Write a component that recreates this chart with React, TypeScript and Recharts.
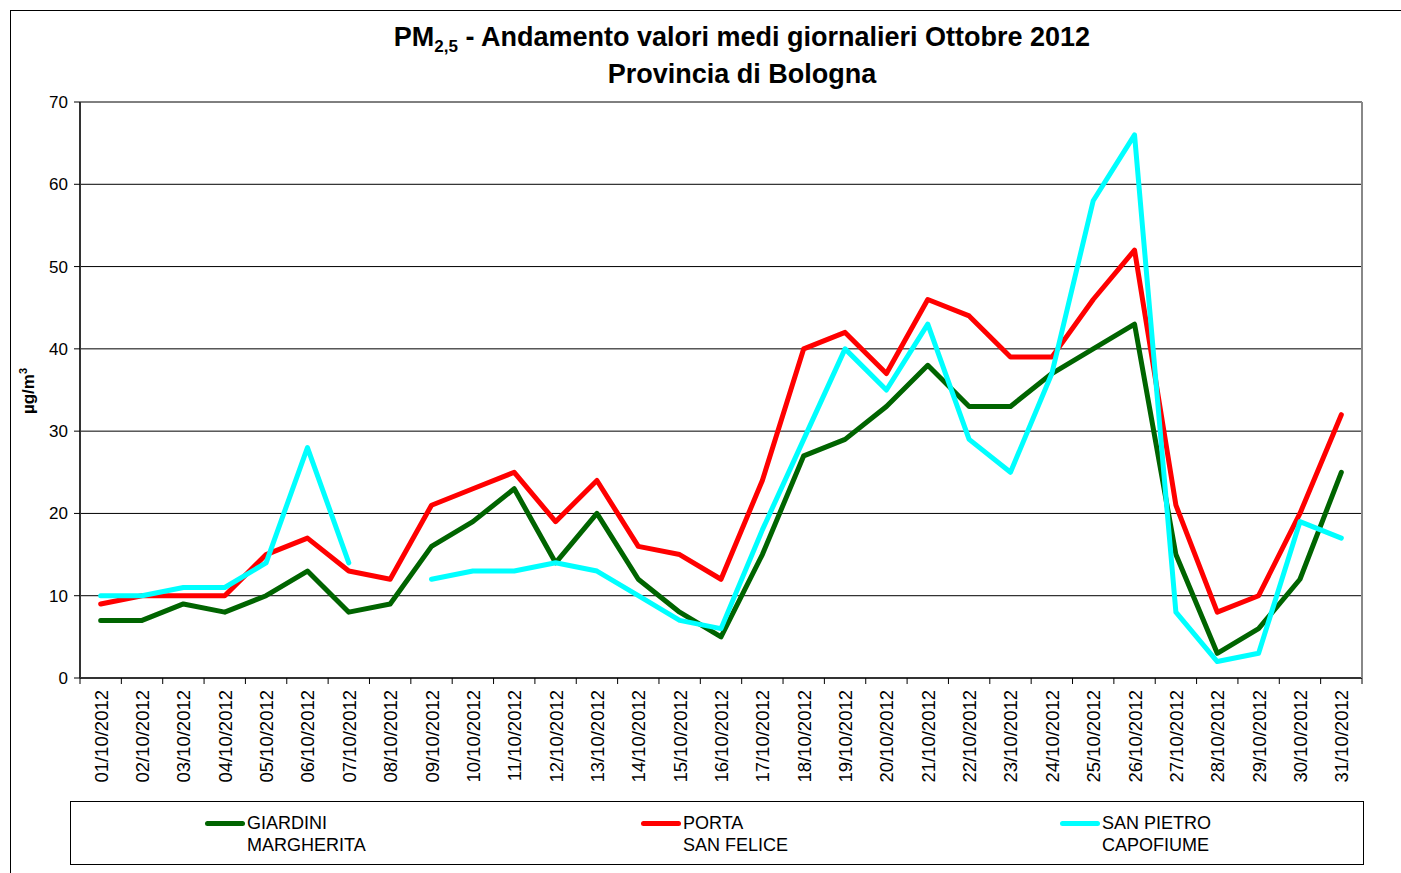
import React from "react";
import { LineChart, Line, XAxis, YAxis, CartesianGrid } from "recharts";

const days = [
  "01/10/2012","02/10/2012","03/10/2012","04/10/2012","05/10/2012","06/10/2012","07/10/2012","08/10/2012",
  "09/10/2012","10/10/2012","11/10/2012","12/10/2012","13/10/2012","14/10/2012","15/10/2012","16/10/2012",
  "17/10/2012","18/10/2012","19/10/2012","20/10/2012","21/10/2012","22/10/2012","23/10/2012","24/10/2012",
  "25/10/2012","26/10/2012","27/10/2012","28/10/2012","29/10/2012","30/10/2012","31/10/2012",
];

const giardini = [7,7,9,8,10,13,8,9,16,19,23,14,20,12,8,5,15,27,29,33,38,33,33,37,40,43,15,3,6,12,25];
const portaSanFelice = [9,10,10,10,15,17,13,12,21,23,25,19,24,16,15,12,24,40,42,37,46,44,39,39,46,52,21,8,10,20,32];
const sanPietro: (number | null)[] = [10,10,11,11,14,28,14,null,12,13,13,14,13,10,7,6,18,29,40,35,43,29,25,37,58,66,8,2,3,19,17];

const yTicks = [0,10,20,30,40,50,60,70];

const seriesNames = [
  { key: "g", line1: "GIARDINI", line2: "MARGHERITA", color: "#006400" },
  { key: "p", line1: "PORTA", line2: "SAN FELICE", color: "#FF0000" },
  { key: "s", line1: "SAN PIETRO", line2: "CAPOFIUME", color: "#00FFFF" },
];

const data = days.map((d, i) => ({ day: d, g: giardini[i], p: portaSanFelice[i], s: sanPietro[i] }));

const W = 1401;
const H = 873;
const M = { top: 102, right: 38, left: 0, bottom: 0 };
const Y_W = 80;
const YR_W = 1;
const X_H = 195;
const BAND = (W - M.right - Y_W - YR_W) / days.length;
const FONT = "'Liberation Sans', Arial, Helvetica, sans-serif";

const XTick = (props: any) => {
  const { x, y, payload, index } = props;
  const base = y - 8;
  return (
    <g>
      <line x1={x - BAND / 2} y1={base} x2={x - BAND / 2} y2={base + 6} stroke="#000" strokeWidth={1} />
      {index === days.length - 1 && (
        <line x1={x + BAND / 2} y1={base} x2={x + BAND / 2} y2={base + 6} stroke="#000" strokeWidth={1} />
      )}
      <text
        transform={`translate(${x + 7},${y + 4}) rotate(-90)`}
        textAnchor="end"
        fontFamily={FONT}
        fontSize={18.5}
        fill="#000"
      >
        {payload.value}
      </text>
    </g>
  );
};

export default function App() {
  return (
    <div style={{ position: "absolute", left: 0, top: 0, width: W, height: H, background: "#fff", overflow: "hidden" }}>
      <div style={{ position: "absolute", left: 10, top: 10, width: W, height: H, borderLeft: "1px solid #000", borderTop: "1px solid #000" }} />
      <div
        style={{
          position: "absolute",
          left: 742,
          top: 19,
          transform: "translateX(-50%)",
          whiteSpace: "nowrap",
          textAlign: "center",
          fontFamily: FONT,
          fontWeight: "bold",
          fontSize: 27,
          lineHeight: "37px",
          color: "#000",
        }}
      >
        <div style={{ height: 37 }}>
          PM<sub style={{ fontSize: 17, verticalAlign: "-6px", lineHeight: 0 }}>2,5</sub> - Andamento valori medi giornalieri Ottobre 2012
        </div>
        <div style={{ height: 37 }}>Provincia di Bologna</div>
      </div>
      <LineChart width={W} height={H} data={data} margin={M}>
        <CartesianGrid vertical={false} stroke="#000" strokeWidth={1} />
        <XAxis
          dataKey="day"
          scale="band"
          interval={0}
          height={X_H}
          tickSize={6}
          tickMargin={2}
          tickLine={false}
          axisLine={{ stroke: "#333", strokeWidth: 2 }}
          tick={<XTick />}
        />
        <YAxis
          domain={[0, 70]}
          ticks={yTicks}
          width={Y_W}
          tickSize={6}
          tickMargin={6}
          axisLine={{ stroke: "#333", strokeWidth: 2 }}
          tickLine={{ stroke: "#000" }}
          tick={{ fill: "#000", fontSize: 17, fontFamily: FONT }}
        />
        <YAxis
          yAxisId="r"
          orientation="right"
          width={YR_W}
          domain={[0, 70]}
          tick={false}
          tickLine={false}
          axisLine={{ stroke: "#888", strokeWidth: 2 }}
        />
        {seriesNames.map((s) => (
          <Line
            key={s.key}
            type="linear"
            dataKey={s.key}
            stroke={s.color}
            strokeWidth={5}
            dot={false}
            activeDot={false}
            connectNulls={false}
            strokeLinejoin="round"
            strokeLinecap="round"
            isAnimationActive={false}
          />
        ))}
      </LineChart>
      <div
        style={{
          position: "absolute",
          left: 28,
          top: 391,
          transform: "translate(-50%,-50%) rotate(-90deg)",
          fontFamily: FONT,
          fontWeight: "bold",
          fontSize: 17,
          whiteSpace: "nowrap",
        }}
      >
        µg/m<sup style={{ fontSize: 11 }}>3</sup>
      </div>
      <div
        style={{
          position: "absolute",
          left: 70,
          top: 801,
          width: 1294,
          height: 64,
          border: "1px solid #000",
          boxSizing: "border-box",
        }}
      />
      {seriesNames.map((s, i) => {
        const lefts = [205, 641, 1060];
        return (
          <div key={s.key} style={{ position: "absolute", left: lefts[i], top: 812, fontFamily: FONT, fontSize: 18, lineHeight: "22px", color: "#000" }}>
            <div style={{ position: "absolute", left: 0, top: 9, width: 40, height: 5, borderRadius: 3, background: s.color }} />
            <div style={{ position: "absolute", left: 42, top: 0, whiteSpace: "nowrap" }}>
              <div>{s.line1}</div>
              <div>{s.line2}</div>
            </div>
          </div>
        );
      })}
    </div>
  );
}
